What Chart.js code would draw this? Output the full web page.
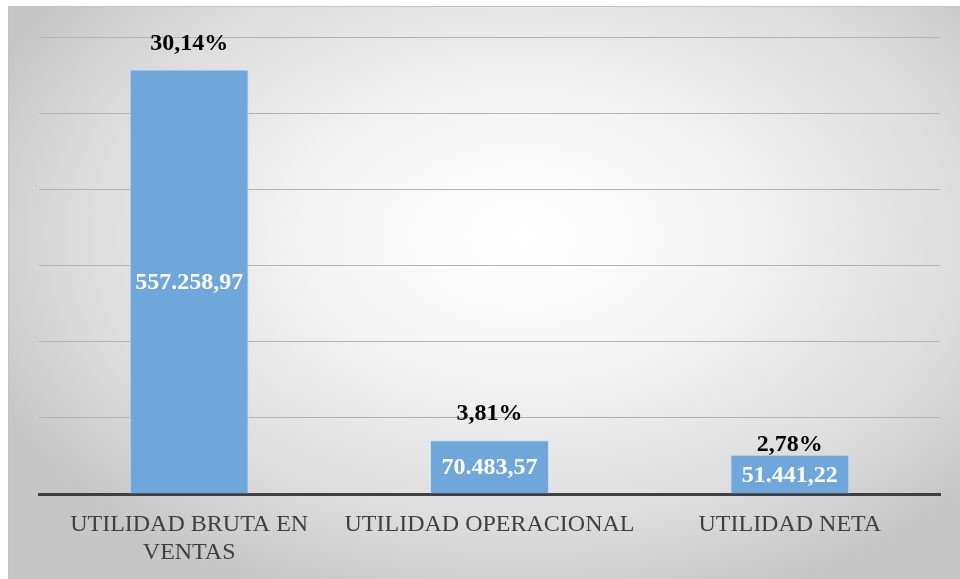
<!DOCTYPE html>
<html>
<head>
<meta charset="utf-8">
<script src="https://cdn.jsdelivr.net/npm/chart.js@4.4.1/dist/chart.umd.min.js"></script>
<style>
  html, body { margin: 0; padding: 0; background: #fff; }
  #wrap { position: relative; width: 960px; height: 579px; overflow: hidden; }
  #bg {
    position: absolute; left: 8px; top: 6px; right: 0; bottom: 0;
    border-left: 1px solid #c4c4c4; border-top: 1px solid #c4c4c4;
    background: radial-gradient(ellipse 62% 68% at 54% 40%, #ffffff 0%, #f4f4f4 35%, #dcdcdc 75%, #c6c6c6 100%);
  }
  canvas { position: absolute; left: 0; top: 0; }
</style>
</head>
<body>
<div id="wrap">
  <div id="bg"></div>
  <canvas id="chart" width="960" height="579"></canvas>
</div>
<script>
const categories = [['UTILIDAD BRUTA EN', 'VENTAS'], 'UTILIDAD OPERACIONAL', 'UTILIDAD NETA'];
const values = [557258.97, 70483.57, 51441.22];
const valueLabels = ['557.258,97', '70.483,57', '51.441,22'];
const percentLabels = ['30,14%', '3,81%', '2,78%'];
const percentOffsets = [26, 27, 10];

const serif = '"Liberation Serif", "Times New Roman", serif';

const labelPlugin = {
  id: 'barLabels',
  afterDatasetsDraw(chart) {
    const ctx = chart.ctx;
    const meta = chart.getDatasetMeta(0);
    const yScale = chart.scales.y;
    ctx.save();
    ctx.textAlign = 'center';
    ctx.textBaseline = 'middle';
    meta.data.forEach((bar, i) => {
      const top = yScale.getPixelForValue(values[i]);
      const base = yScale.getPixelForValue(0);
      ctx.font = 'bold 24px ' + serif;
      ctx.fillStyle = '#ffffff';
      ctx.fillText(valueLabels[i], bar.x, (top + base) / 2 + 1);
      ctx.fillStyle = '#000000';
      ctx.fillText(percentLabels[i], bar.x, top - percentOffsets[i]);
    });
    ctx.restore();
  }
};

new Chart(document.getElementById('chart').getContext('2d'), {
  type: 'bar',
  data: {
    labels: categories,
    datasets: [{
      data: values,
      backgroundColor: '#70a7db',
      borderColor: '#c9ddf0',
      borderWidth: 1,
      categoryPercentage: 1,
      barPercentage: 0.396
    }]
  },
  options: {
    responsive: false,
    animation: false,
    layout: { padding: { left: 39, right: 20, top: 37, bottom: 19 } },
    plugins: {
      legend: { display: false },
      tooltip: { enabled: false }
    },
    scales: {
      x: {
        grid: { display: false },
        border: { color: '#404040', width: 3 },
        afterFit(scale) { scale.height = 66; },
        ticks: {
          color: '#404040',
          padding: 9,
          font: { family: serif, size: 24, lineHeight: 1.17 },
          maxRotation: 0
        }
      },
      y: {
        min: 0,
        max: 600000,
        ticks: { display: false, stepSize: 100000 },
        border: { display: false },
        grid: { color: '#b4b4b4', lineWidth: 1, drawTicks: false }
      }
    }
  },
  plugins: [labelPlugin]
});
</script>
</body>
</html>
